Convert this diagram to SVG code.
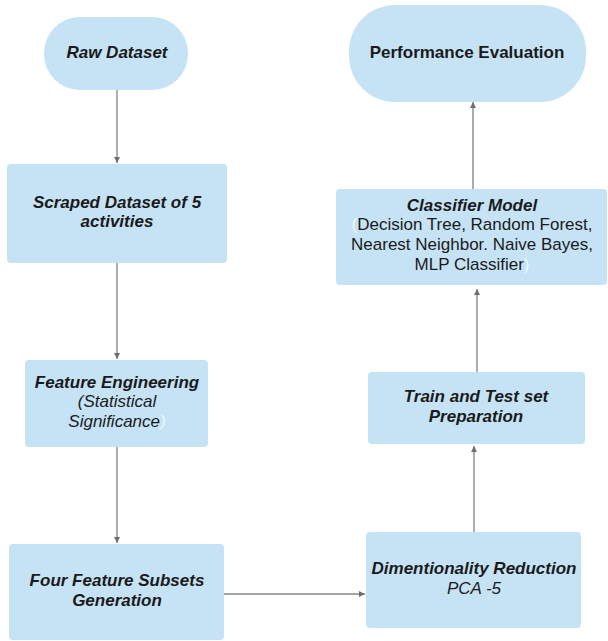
<svg xmlns="http://www.w3.org/2000/svg" width="608" height="641" viewBox="0 0 608 641">
<style>
.box{fill:#c6e3f6;stroke:none}
.t{font-family:"Liberation Sans",Arial,sans-serif;font-size:17px;fill:#1a1a1a;text-anchor:middle}
.bi{font-weight:bold;font-style:italic}
.b{font-weight:bold}
.i{font-style:italic}
.faint{fill:#eef7fd}
.conn{stroke:#8a8a8a;stroke-width:1.4;fill:none;marker-end:url(#ah)}
</style>
<defs>
<marker id="ah" viewBox="0 0 10 10" refX="10" refY="5" markerWidth="6" markerHeight="6" markerUnits="userSpaceOnUse" orient="auto">
<path d="M0,0 L10,5 L0,10 z" fill="#6f6f6f"/>
</marker>
</defs>
<rect width="608" height="641" fill="#ffffff"/>
<g id="connectors">
<line class="conn" x1="117" y1="90" x2="117" y2="163"/>
<line class="conn" x1="117" y1="263" x2="117" y2="359"/>
<line class="conn" x1="117" y1="447" x2="117" y2="543"/>
<line class="conn" x1="224" y1="594" x2="365" y2="594"/>
<line class="conn" x1="474" y1="532" x2="474" y2="446"/>
<line class="conn" x1="477" y1="372" x2="477" y2="289"/>
<line class="conn" x1="473" y1="189" x2="473" y2="102"/>
</g>
<g id="raw">
<rect class="box" x="44" y="17" width="144" height="73" rx="36" ry="36"/>
<text class="t bi" x="117" y="58">Raw Dataset</text>
</g>
<g id="scraped">
<rect class="box" x="7" y="164" width="220" height="99" rx="4"/>
<text class="t bi" x="117" y="208">Scraped Dataset of 5</text>
<text class="t bi" x="117" y="227">activities</text>
</g>
<g id="feature-eng">
<rect class="box" x="25" y="360" width="183" height="87" rx="4"/>
<text class="t bi" x="117" y="388">Feature Engineering</text>
<text class="t i" x="117" y="407">(Statistical</text>
<text class="t i" x="117" y="427">Significance<tspan class="faint">)</tspan></text>
</g>
<g id="subsets">
<rect class="box" x="9" y="544" width="215" height="96" rx="4"/>
<text class="t bi" x="117" y="586">Four Feature Subsets</text>
<text class="t bi" x="117" y="606">Generation</text>
</g>
<g id="dimred">
<rect class="box" x="366" y="532" width="215" height="96" rx="4"/>
<text class="t bi" x="474" y="574">Dimentionality Reduction</text>
<text class="t i" x="474" y="594">PCA -5</text>
</g>
<g id="traintest">
<rect class="box" x="368" y="372" width="217" height="72" rx="4"/>
<text class="t bi" x="476" y="402">Train and Test set</text>
<text class="t bi" x="476" y="422">Preparation</text>
</g>
<g id="classifier">
<rect class="box" x="336" y="189" width="271" height="96" rx="4"/>
<text class="t bi" x="472" y="211">Classifier Model</text>
<text class="t" x="472" y="230"><tspan class="faint">(</tspan>Decision Tree, Random Forest,</text>
<text class="t" x="472" y="250">Nearest Neighbor. Naive Bayes,</text>
<text class="t" x="472" y="270">MLP Classifier<tspan class="faint">)</tspan></text>
</g>
<g id="performance">
<rect class="box" x="349" y="5" width="237" height="97" rx="46" ry="46"/>
<text class="t b" x="467" y="58">Performance Evaluation</text>
</g>
</svg>
